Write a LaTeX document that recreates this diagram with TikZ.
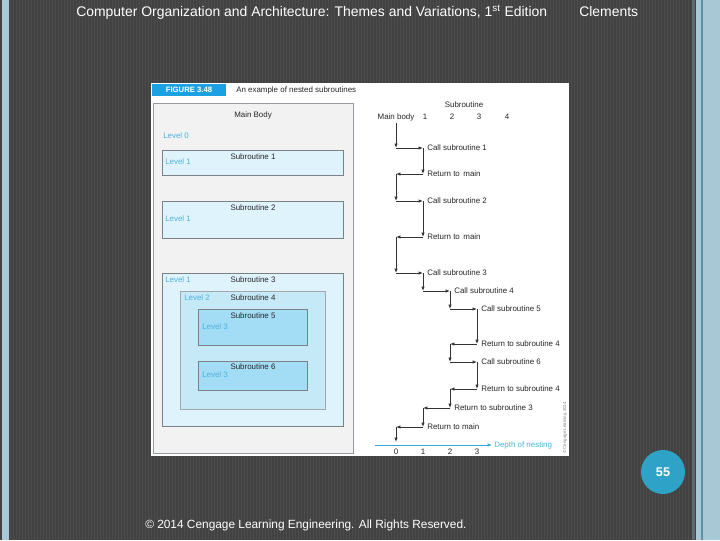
\documentclass[tikz,border=0pt]{standalone}
\usepackage{fontspec}
\setmainfont{Liberation Sans}
\usetikzlibrary{arrows.meta}
\definecolor{bgdark}{HTML}{424242}
\definecolor{bgstripe}{HTML}{4C4C4C}
\definecolor{edgeblue}{HTML}{A9C8D6}
\definecolor{edgeline}{HTML}{5B8FA8}
\definecolor{badge}{HTML}{2EA3C7}
\definecolor{capbar}{HTML}{1BA1E2}
\definecolor{panelgrey}{HTML}{F2F2F3}
\definecolor{lvlone}{HTML}{DFF3FC}
\definecolor{lvltwo}{HTML}{C6E9F8}
\definecolor{lvlthree}{HTML}{A2DCF5}
\definecolor{lvltext}{HTML}{4DB2DC}
\definecolor{boxedge}{HTML}{7A8288}
\definecolor{flowcol}{HTML}{333333}
\definecolor{axiscol}{HTML}{3AA8D8}
\tikzset{
  hdr/.style={text=white, font=\fontsize{10.45}{12}\selectfont, inner sep=0pt},
  small/.style={font=\fontsize{5.95}{7}\selectfont, inner sep=0pt, text=black!85},
  lvl/.style={font=\fontsize{5.95}{7}\selectfont, inner sep=0pt, text=lvltext},
  box/.style={draw=boxedge, line width=0.6pt},
  flow/.style={draw=flowcol, line width=0.6pt, -{Latex[length=3.3pt,width=2.6pt]}},
  evlbl/.style={small, anchor=west},
}
\begin{document}
\begin{tikzpicture}[x=0.75pt,y=-0.75pt]
\useasboundingbox (0,0) rectangle (720,540);
% background
\fill[bgdark] (0,0) rectangle (720,540);
\foreach \xx in {10,13,...,690}{\draw[bgstripe, line width=0.6pt] (\xx,0) -- (\xx,540);}
\fill[edgeblue] (2,0) rectangle (9,540);
\fill[bgdark!70!edgeblue] (692,0) rectangle (694.5,540);
\fill[bgdark] (694.5,0) rectangle (696,540);
\fill[edgeblue] (696,0) rectangle (720,540);
\fill[edgeline] (701,0) rectangle (702.5,540);

% header and footer
\node[hdr, anchor=west] (title) at (76,12) {Computer Organization and Architecture: Themes and Variations, 1\textsuperscript{st} Edition};
\node[hdr, anchor=west] (author) at (579,12) {Clements};
\node[hdr, anchor=west, font=\fontsize{8.9}{11}\selectfont] (copy) at (145,525) {© 2014 Cengage Learning Engineering. All Rights Reserved.};
\node[circle, fill=badge, minimum size=33pt, inner sep=0pt, text=white, font=\bfseries\fontsize{9.5}{11}\selectfont] (page) at (663,472) {55};

% figure sheet
\fill[white] (151,83) rectangle (569,456);
\fill[capbar] (152,84) rectangle (226,96);
\node[font=\bfseries\fontsize{5.8}{6}\selectfont, text=white, inner sep=0pt] (figno) at (189,90) {FIGURE 3.48};
\node[small, anchor=west] (caption) at (236,90) {An example of nested subroutines};

% left panel
\filldraw[fill=panelgrey, draw=boxedge!80, line width=0.5pt] (153,103) rectangle (353,453);
\node[small] (mainbody) at (253,115) {Main Body};
\node[lvl, anchor=west] (lv0) at (163,136) {Level 0};

\filldraw[box, fill=lvlone] (162,150) rectangle (343,175);
\node[small] (sub1) at (253,157) {Subroutine 1};
\node[lvl, anchor=west] (lv1a) at (165,162) {Level 1};

\filldraw[box, fill=lvlone] (162,201) rectangle (343,238);
\node[small] (sub2) at (253,208) {Subroutine 2};
\node[lvl, anchor=west] (lv1b) at (165,219) {Level 1};

\filldraw[box, fill=lvlone] (162,273) rectangle (343,426);
\node[small] (sub3) at (253,280) {Subroutine 3};
\node[lvl, anchor=west] (lv1c) at (165,280) {Level 1};

\filldraw[box, fill=lvltwo, draw=boxedge!70] (180,291) rectangle (325,409);
\node[small] (sub4) at (253,298) {Subroutine 4};
\node[lvl, anchor=west] (lv2) at (184,298) {Level 2};

\filldraw[box, fill=lvlthree] (198,309) rectangle (307,345);
\node[small] (sub5) at (253,316) {Subroutine 5};
\node[lvl, anchor=west] (lv3a) at (202,327) {Level 3};

\filldraw[box, fill=lvlthree] (198,361) rectangle (307,390);
\node[small] (sub6) at (253,367) {Subroutine 6};
\node[lvl, anchor=west] (lv3b) at (202,375) {Level 3};

% right panel: column headings
\node[small] (subhdr) at (464,105) {Subroutine};
\node[small] (h0) at (396,117) {Main body};
\node[small] (h1) at (425,117) {1};
\node[small] (h2) at (452,117) {2};
\node[small] (h3) at (479,117) {3};
\node[small] (h4) at (507,117) {4};

% flow of control
\coordinate (b0) at (396,123);
\foreach \n/\yy/\f/\t [count=\k from 0] in {
  1/148/396/423, 2/174/423/396, 3/201/396/423, 4/237/423/396,
  5/273/396/423, 6/291/423/450, 7/309/450/477, 8/344/477/450,
  9/362/450/477, 10/389/477/450, 11/408/450/423, 12/427/423/396}{
  \coordinate (a\n) at (\f,\yy);
  \coordinate (b\n) at (\t,\yy);
  \draw[flow] (b\k) -- (a\n);
  \draw[flow] (a\n) -- (b\n);
}
\coordinate (fin) at (396,442);
\draw[flow] (b12) -- (fin);

\node[evlbl] (e1) at (427,148) {Call subroutine 1};
\node[evlbl] (e2) at (427,174) {Return to\, main};
\node[evlbl] (e3) at (427,201) {Call subroutine 2};
\node[evlbl] (e4) at (427,237) {Return to\, main};
\node[evlbl] (e5) at (427,273) {Call subroutine 3};
\node[evlbl] (e6) at (454,291) {Call subroutine 4};
\node[evlbl] (e7) at (481,309) {Call subroutine 5};
\node[evlbl] (e8) at (481,344) {Return to subroutine 4};
\node[evlbl] (e9) at (481,362) {Call subroutine 6};
\node[evlbl] (e10) at (481,389) {Return to subroutine 4};
\node[evlbl] (e11) at (454,408) {Return to subroutine 3};
\node[evlbl] (e12) at (427,427) {Return to main};

% depth axis
\coordinate (ax0) at (375,445);
\coordinate (ax1) at (492,445);
\draw[axiscol, line width=0.5pt, -{Latex[length=3.3pt,width=2.6pt]}] (ax0) -- (ax1);
\node[lvl, anchor=west] (depth) at (494,445) {Depth of nesting};
\node[small] (d0) at (396,452) {0};
\node[small] (d1) at (423,452) {1};
\node[small] (d2) at (450,452) {2};
\node[small] (d3) at (477,452) {3};

\node[rotate=90, font=\fontsize{3.3}{4}\selectfont, text=black!50, inner sep=0pt] (credit) at (565,428) {© Cengage Learning 2014};
\end{tikzpicture}
\end{document}
